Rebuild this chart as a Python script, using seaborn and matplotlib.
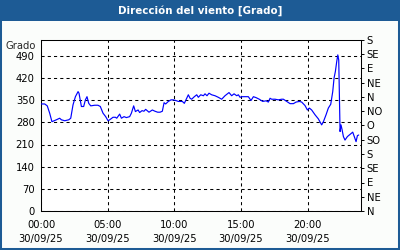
import matplotlib
matplotlib.use("Agg")
import matplotlib.pyplot as plt
from matplotlib.patches import Rectangle
import seaborn as sns
import numpy as np

# ---- data ----
hours = [0.0, 0.28, 0.47, 0.65, 0.82, 1.15, 1.4, 1.53, 1.78, 2.08, 2.23, 2.4, 2.58, 2.78, 2.85,
         3.03, 3.2, 3.33, 3.45, 3.58, 3.73, 4.03, 4.27, 4.45, 4.65, 4.85, 5.03, 5.15, 5.4, 5.58,
         5.68, 5.9, 6.03, 6.23, 6.4, 6.65, 6.78, 6.95, 7.08, 7.28, 7.4, 7.58, 7.72, 7.85, 8.1,
         8.35, 8.55, 8.75, 8.93, 9.1, 9.23, 9.35, 9.55, 9.75, 9.93, 10.1, 10.3, 10.6, 10.75,
         10.93, 11.05, 11.18, 11.3, 11.5, 11.68, 11.8, 11.98, 12.18, 12.3, 12.45, 12.6, 12.8,
         13.05, 13.3, 13.55, 13.8, 14.1, 14.3, 14.48, 14.68, 14.8, 14.93, 15.05, 15.3, 15.55,
         15.75, 15.93, 16.13, 16.37, 16.63, 16.88, 17.05, 17.18, 17.3, 17.55, 17.8, 18.05,
         18.18, 18.43, 18.68, 18.93, 19.13, 19.38, 19.55, 19.8, 19.98, 20.13, 20.3, 20.55,
         20.8, 21.05, 21.18, 21.38, 21.55, 21.73, 21.88, 21.98, 22.08, 22.18, 22.26, 22.33,
         22.38, 22.43, 22.5, 22.58, 22.68, 22.8, 22.98, 23.18, 23.38, 23.5, 23.63, 23.73, 23.83]
degrees = [338, 338, 332, 309, 282, 288, 293, 288, 285, 288, 293, 335, 361, 377, 372,
           330, 330, 351, 361, 340, 332, 334, 334, 330, 309, 298, 285, 288, 296, 296,
           293, 306, 293, 298, 295, 298, 309, 332, 314, 319, 311, 317, 315, 321, 312,
           319, 315, 312, 312, 315, 342, 338, 346, 351, 351, 349, 346, 346, 340,
           356, 367, 356, 353, 361, 367, 359, 367, 364, 370, 364, 372, 367,
           364, 359, 353, 364, 374, 364, 370, 364, 367, 359, 361, 361, 361,
           349, 361, 358, 353, 346, 348, 344, 356, 353, 353, 351, 353,
           353, 346, 339, 339, 344, 346, 344, 333, 319, 325, 319, 304,
           291, 272, 282, 304, 325, 337, 377, 420, 441, 472, 493, 477,
           367, 251, 272, 257, 235, 224, 235, 242, 249, 235, 219, 238, 240]

title = "Dirección del viento [Grado]"
y_unit = "Grado"
x_tick_pos = [0, 5, 10, 15, 20]
x_tick_labels = ["00:00\n30/09/25", "05:00\n30/09/25", "10:00\n30/09/25",
                 "15:00\n30/09/25", "20:00\n30/09/25"]
y_ticks = [0, 70, 140, 210, 280, 350, 420, 490]
compass_ticks = [0, 45, 90, 135, 180, 225, 270, 315, 360, 405, 450, 495, 540]
compass_labels = ["N", "NE", "E", "SE", "S", "SO", "O", "NO", "N", "NE", "E", "SE", "S"]

# ---- style ----
sns.set_style("white")
plt.rcParams['font.family'] = ['DejaVu Sans']
FS = 7.2

BLUE = "#1d5b95"
W, H = 400, 250
fig = plt.figure(figsize=(4, 2.5), dpi=100, facecolor="#fbfdfb")

# title bar and border
fig.patches.append(Rectangle((0, 1 - 21 / H), 1, 21 / H, transform=fig.transFigure,
                             facecolor=BLUE, edgecolor="none", zorder=0))
fig.patches.append(Rectangle((0, 0), 1, 1, transform=fig.transFigure,
                             fill=False, edgecolor=BLUE, lw=2.9, zorder=1))
fig.text(0.5, 1 - 11 / H, title, color="white", fontweight="bold", fontsize=7.4,
         ha="center", va="center")

left, right, top, bottom = 41, 361, 40, 211
ax = fig.add_axes([left / W, (H - bottom) / H, (right - left) / W, (bottom - top) / H])
ax.set_facecolor("white")

sns.lineplot(x=hours, y=degrees, ax=ax, color="#0000ff", lw=0.85, zorder=3)

ax.set_xlim(0, 24)
ax.set_ylim(0, 540)
ax.set_yticks(y_ticks)
ax.set_yticklabels([str(v) for v in y_ticks])
ax.set_xticks(x_tick_pos)
ax.set_xticklabels(x_tick_labels, linespacing=1.5)
ax.set_xticks(np.arange(0, 24, 1), minor=True)
ax.tick_params(axis="y", length=0, pad=4.5, labelsize=FS, colors="black")
ax.tick_params(axis="x", which="both", direction="out", length=2.5, width=0.7,
               pad=4, labelsize=FS, colors="black")
ax.grid(True, which="major", color="black", linestyle=(0, (3, 3)), lw=0.75)
for s in ax.spines.values():
    s.set_color("black")
    s.set_linewidth(0.75)
ax.set_xlabel("")
ax.set_ylabel("")

ax.text(-0.015, 522, y_unit, transform=ax.get_yaxis_transform(), ha="right",
        va="center", fontsize=FS)

ax2 = ax.twinx()
ax2.set_ylim(0, 540)
ax2.set_yticks(compass_ticks)
ax2.set_yticklabels(compass_labels)
ax2.tick_params(axis="y", direction="out", length=2.5, width=0.7, pad=1.5,
                labelsize=FS, colors="black")
for s in ax2.spines.values():
    s.set_visible(False)
ax2.grid(False)

fig.savefig("out.png", dpi=100, facecolor=fig.get_facecolor())
